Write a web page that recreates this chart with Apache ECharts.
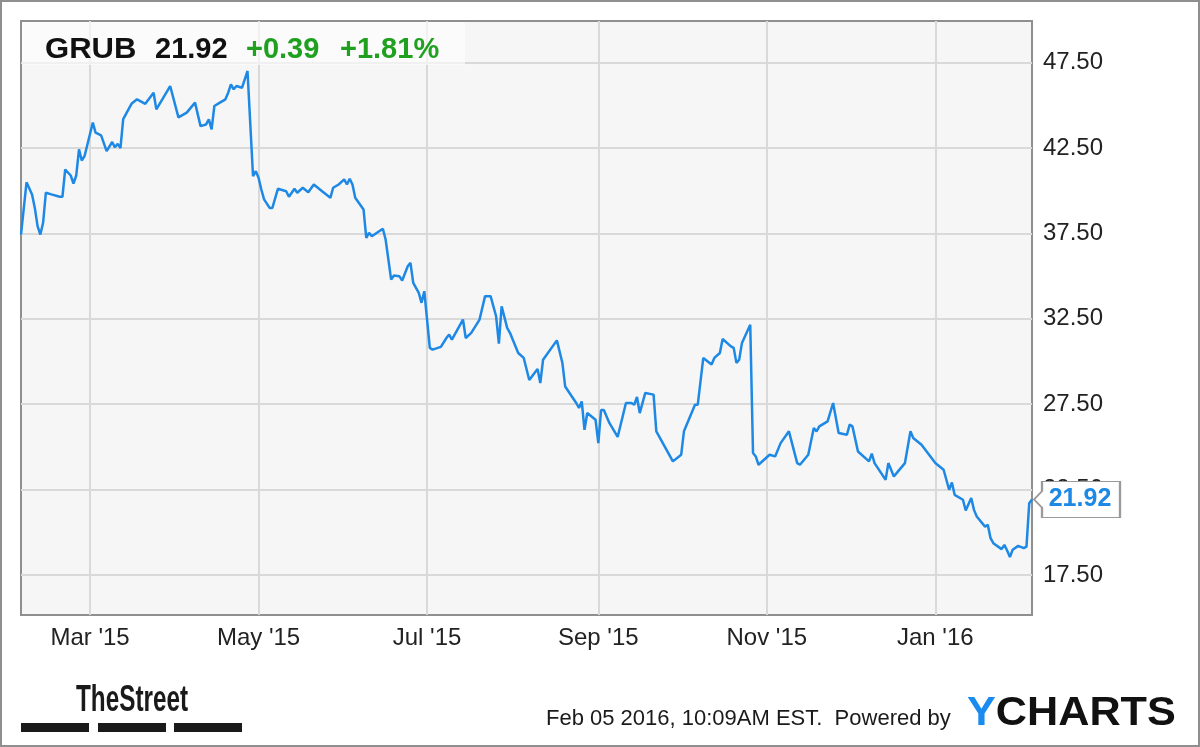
<!DOCTYPE html>
<html><head><meta charset="utf-8">
<style>html,body{margin:0;padding:0;background:#fff;} #chart{width:1200px;height:747px;}</style>
<script src="https://cdn.jsdelivr.net/npm/echarts@6.0.0/dist/echarts.min.js"></script>
</head><body><div id="chart"></div>
<script>
const ticker = 'GRUB';
const change = '+0.39';
const changePct = '+1.81%';
const footerText = 'Feb 05 2016, 10:09AM EST.  Powered by';

const dates = [
'2015-02-04','2015-02-06','2015-02-08','2015-02-09','2015-02-10','2015-02-11','2015-02-12','2015-02-13','2015-02-15','2015-02-18',
'2015-02-19','2015-02-20','2015-02-22','2015-02-23','2015-02-24','2015-02-25','2015-02-26','2015-02-27','2015-03-02','2015-03-03',
'2015-03-05','2015-03-07','2015-03-09','2015-03-10','2015-03-11','2015-03-12','2015-03-13','2015-03-16','2015-03-18','2015-03-21',
'2015-03-24','2015-03-25','2015-03-30','2015-04-02','2015-04-05','2015-04-08','2015-04-10','2015-04-12','2015-04-13','2015-04-14',
'2015-04-15','2015-04-17','2015-04-19','2015-04-20','2015-04-21','2015-04-22','2015-04-23','2015-04-25','2015-04-26','2015-04-27',
'2015-04-29','2015-04-30','2015-05-01','2015-05-02','2015-05-03','2015-05-05','2015-05-06','2015-05-08','2015-05-11','2015-05-12',
'2015-05-14','2015-05-15','2015-05-17','2015-05-19','2015-05-21','2015-05-24','2015-05-27','2015-05-28','2015-05-30','2015-06-01',
'2015-06-02','2015-06-03','2015-06-04','2015-06-05','2015-06-08','2015-06-09','2015-06-10','2015-06-11','2015-06-15','2015-06-16',
'2015-06-18','2015-06-19','2015-06-21','2015-06-22','2015-06-24','2015-06-25','2015-06-26','2015-06-28','2015-06-29','2015-06-30',
'2015-07-02','2015-07-03','2015-07-06','2015-07-08','2015-07-09','2015-07-10','2015-07-12','2015-07-14','2015-07-15','2015-07-17',
'2015-07-20','2015-07-22','2015-07-24','2015-07-26','2015-07-27','2015-07-28','2015-07-30','2015-07-31','2015-08-03','2015-08-05',
'2015-08-07','2015-08-10','2015-08-11','2015-08-12','2015-08-17','2015-08-19','2015-08-20','2015-08-24','2015-08-25','2015-08-26',
'2015-08-27','2015-08-28','2015-08-31','2015-09-01','2015-09-02','2015-09-03','2015-09-05','2015-09-08','2015-09-11','2015-09-13',
'2015-09-14','2015-09-15','2015-09-16','2015-09-18','2015-09-21','2015-09-22','2015-09-28','2015-10-01','2015-10-02','2015-10-06',
'2015-10-07','2015-10-09','2015-10-12','2015-10-13','2015-10-15','2015-10-16','2015-10-19','2015-10-20','2015-10-21','2015-10-22',
'2015-10-23','2015-10-26','2015-10-27','2015-10-28','2015-10-29','2015-11-02','2015-11-04','2015-11-06','2015-11-09','2015-11-12',
'2015-11-13','2015-11-16','2015-11-18','2015-11-19','2015-11-20','2015-11-23','2015-11-25','2015-11-27','2015-11-30','2015-12-01',
'2015-12-02','2015-12-04','2015-12-08','2015-12-09','2015-12-10','2015-12-14','2015-12-15','2015-12-17','2015-12-21','2015-12-23',
'2015-12-24','2015-12-27','2016-01-01','2016-01-04','2016-01-06','2016-01-07','2016-01-08','2016-01-11','2016-01-12','2016-01-14',
'2016-01-15','2016-01-16','2016-01-19','2016-01-20','2016-01-21','2016-01-22','2016-01-25','2016-01-26','2016-01-27','2016-01-28',
'2016-01-29','2016-01-31','2016-02-02','2016-02-03','2016-02-04','2016-02-05'
];
const prices = [
37.44,40.50,39.79,39.00,37.93,37.44,38.13,39.89,39.79,39.65,
39.65,41.25,40.90,40.43,40.90,42.43,41.78,42.03,44.00,43.41,
43.25,42.33,42.86,42.55,42.75,42.50,44.20,45.10,45.36,45.10,
45.75,44.77,46.14,44.30,44.58,45.17,43.79,43.89,44.19,43.60,
44.97,45.17,45.36,45.75,46.24,45.95,46.14,46.04,46.53,47.02,
40.86,41.15,40.77,40.08,39.50,39.00,39.00,40.12,39.98,39.65,
40.12,39.89,40.18,39.92,40.37,39.98,39.59,40.18,40.37,40.67,
40.37,40.71,40.37,39.59,38.91,37.25,37.54,37.34,37.78,37.15,
34.80,35.04,34.99,34.75,35.58,35.78,34.61,34.02,33.44,34.12,
30.80,30.70,30.86,31.38,31.58,31.28,31.87,32.46,31.38,31.68,
32.46,33.83,33.83,32.65,31.05,33.24,31.97,31.68,30.50,30.21,
28.92,29.56,28.74,30.11,31.24,29.91,28.54,27.57,27.28,27.66,
26.00,26.98,26.59,25.22,27.16,27.16,26.40,25.58,27.57,27.57,
27.47,27.92,26.98,28.16,28.06,25.91,24.15,24.54,25.91,27.47,
27.47,30.21,29.82,30.21,30.50,31.32,30.89,30.80,29.92,30.11,
31.09,32.16,24.64,24.44,23.95,24.54,24.44,25.22,25.91,24.05,
23.95,24.54,26.10,25.91,26.20,26.49,27.57,25.81,25.71,26.30,
26.20,24.73,24.15,24.60,24.05,23.07,24.05,23.27,24.05,25.91,
25.52,25.12,24.05,23.66,22.49,22.91,22.19,21.90,21.27,22.00,
21.31,20.92,20.33,20.43,19.65,19.36,19.01,19.26,18.93,18.54,
18.97,19.20,19.07,19.16,21.70,21.92
];
const xTickDates = ['2015-03-01','2015-05-01','2015-07-01','2015-09-01','2015-11-01','2016-01-01'];
const xTickLabels = ["Mar '15","May '15","Jul '15","Sep '15","Nov '15","Jan '16"];
const yTicks = [17.5, 22.5, 27.5, 32.5, 37.5, 42.5, 47.5];

const FONT = 'Arial, "Liberation Sans", Helvetica, sans-serif';
const toTime = d => +new Date(d + 'T00:00:00');
const xTickTimes = xTickDates.map(toTime);
const seriesData = dates.map((d, i) => [toTime(d), prices[i]]);
const lastIdx = prices.length - 1;
const lastPrice = prices[lastIdx].toFixed(2);
const BLUE = '#1e88e5';

const chart = echarts.init(document.getElementById('chart'), null, {renderer: 'canvas'});
const tagPath = 'path://M0,17.5 L8,9.5 L8,0 L86,0 L86,35 L8,35 L8,25.5 Z';

chart.setOption({
  animation: false,
  backgroundColor: '#ffffff',
  grid: {
    left: 21, top: 21, right: 168, bottom: 132,
    show: true, backgroundColor: '#f6f6f6', borderColor: '#8f8f8f', borderWidth: 2,
    outerBoundsMode: 'none'
  },
  xAxis: {
    type: 'value',
    scale: true,
    min: toTime(dates[0]),
    max: toTime(dates[lastIdx]),
    axisLine: {show: false},
    axisTick: {show: false, customValues: xTickTimes},
    axisLabel: {
      customValues: xTickTimes,
      formatter: function (val) {
        let best = 0, bd = Infinity;
        xTickTimes.forEach((t, i) => { const dd = Math.abs(t - val); if (dd < bd) { bd = dd; best = i; } });
        return xTickLabels[best];
      },
      fontSize: 24, color: '#222', margin: 11, fontFamily: FONT, hideOverlap: false
    },
    splitLine: {show: true, lineStyle: {color: '#d9d9d9', width: 2}}
  },
  yAxis: {
    type: 'value', position: 'right',
    min: 15.15, max: 49.95,
    axisLine: {show: false},
    axisTick: {show: false, customValues: yTicks},
    axisLabel: {
      customValues: yTicks,
      formatter: v => Number(v).toFixed(2),
      fontSize: 24, color: '#222', margin: 11, fontFamily: FONT,
      padding: [8, 0, 0, 0]
    },
    splitLine: {show: true, lineStyle: {color: '#d9d9d9', width: 2}}
  },
  series: [{
    type: 'line',
    data: seriesData,
    showSymbol: false,
    symbol: 'none',
    silent: true,
    lineStyle: {color: BLUE, width: 2.5},
    itemStyle: {color: BLUE},
    markPoint: {
      silent: true,
      animation: false,
      symbol: tagPath,
      symbolSize: [86, 36],
      symbolKeepAspect: false,
      symbolOffset: [45, 0],
      itemStyle: {color: '#ffffff', borderColor: '#9a9a9a', borderWidth: 1.5},
      label: {
        show: true, position: 'inside', offset: [3, 0],
        formatter: lastPrice, color: BLUE, fontSize: 25, fontWeight: 'bold', fontFamily: FONT
      },
      data: [{coord: [toTime(dates[lastIdx]), prices[lastIdx]]}]
    }
  }],
  graphic: [
    {type: 'rect', z: 100, silent: true, shape: {x: 1, y: 1, width: 1198, height: 745},
      style: {fill: 'none', stroke: '#8f8f8f', lineWidth: 2}},
    {type: 'rect', z: 1, silent: true, shape: {x: 22, y: 22, width: 443, height: 43},
      style: {fill: 'rgba(255,255,255,0.6)'}},
    {type: 'text', z: 5, silent: true, x: 45, y: 50, scaleX: 1.07, originX: 0, originY: 0,
      style: {text: ticker, fill: '#111', fontSize: 29, fontWeight: 'bold', fontFamily: FONT, verticalAlign: 'middle'}},
    {type: 'text', z: 5, silent: true, x: 155, y: 50,
      style: {text: lastPrice, fill: '#111', fontSize: 29, fontWeight: 'bold', fontFamily: FONT, verticalAlign: 'middle'}},
    {type: 'text', z: 5, silent: true, x: 246, y: 50,
      style: {text: change, fill: '#1fa01f', fontSize: 29, fontWeight: 'bold', fontFamily: FONT, verticalAlign: 'middle'}},
    {type: 'text', z: 5, silent: true, x: 340, y: 50,
      style: {text: changePct, fill: '#1fa01f', fontSize: 29, fontWeight: 'bold', fontFamily: FONT, verticalAlign: 'middle'}},
    {type: 'text', z: 5, silent: true, x: 76, y: 701, scaleX: 0.675, originX: 0, originY: 0,
      style: {text: 'TheStreet', fill: '#1a1a1a', fontSize: 36, fontWeight: 'bold', fontFamily: FONT, verticalAlign: 'middle'}},
    {type: 'rect', z: 5, silent: true, shape: {x: 21, y: 723, width: 68, height: 9}, style: {fill: '#1a1a1a'}},
    {type: 'rect', z: 5, silent: true, shape: {x: 98, y: 723, width: 68, height: 9}, style: {fill: '#1a1a1a'}},
    {type: 'rect', z: 5, silent: true, shape: {x: 174, y: 723, width: 68, height: 9}, style: {fill: '#1a1a1a'}},
    {type: 'text', z: 5, silent: true, x: 546, y: 719,
      style: {text: footerText, fill: '#1a1a1a', fontSize: 22, fontFamily: FONT, verticalAlign: 'middle'}},
    {type: 'text', z: 5, silent: true, x: 967, y: 714, scaleX: 1.08, originX: 0, originY: 0,
      style: {text: '{y|Y}{c|CHARTS}', verticalAlign: 'middle',
        rich: {
          y: {fill: '#1a8cf0', fontSize: 40, fontWeight: 900, fontFamily: FONT},
          c: {fill: '#111', fontSize: 40, fontWeight: 900, fontFamily: FONT}
        }}}
  ]
});
</script>
</body></html>
